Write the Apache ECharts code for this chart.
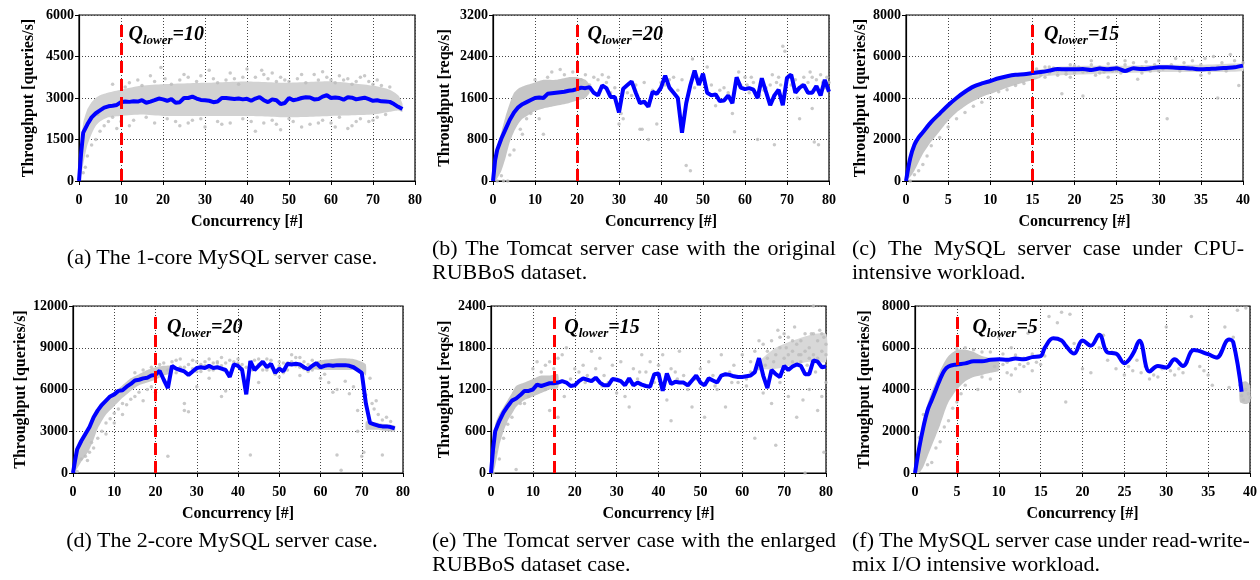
<!DOCTYPE html>
<html>
<head>
<meta charset="utf-8">
<script src="https://cdn.jsdelivr.net/npm/echarts@6/dist/echarts.min.js"></script>
<style>
  body { margin: 0; background: #fff; }
  #wrap { position: relative; width: 1260px; height: 580px; }
  #chart { width: 1260px; height: 580px; }
  .cap { position: absolute; font-family: "Liberation Serif", serif; font-size: 22px; line-height: 24px; color: #000; }
  .row { display: flex; justify-content: space-between; white-space: nowrap; }
  .one { text-align: center; white-space: nowrap; }
</style>
</head>
<body>
<div id="wrap">
  <div id="chart"></div>
</div>
<script>
// ---- data ----
const qLower = [10, 20, 15, 20, 15, 5];

const aLine = [[0,0],[0.5,1000],[1,1750],[2,2050],[3,2300],[4,2450],[5,2550],[6,2650],[7,2700],[8,2720],[9,2750],[10,2850],[11,2870],[12,2860],[13,2880],[14,2870],[15,2920],[16,2830],[17,2870],[18,2920],[19,2980],[20,2950],[21,2900],[22,2960],[23,2830],[24,2850],[25,3000],[26,3000],[27,3050],[28,2980],[29,2930],[30,2920],[31,2900],[32,2850],[33,2870],[34,3000],[35,3000],[36,2980],[37,2960],[38,2980],[39,2950],[40,2970],[41,2900],[42,2980],[43,3030],[44,2920],[45,2850],[46,2950],[47,2920],[48,2780],[49,2820],[50,3000],[51,2920],[52,2950],[53,3000],[54,3030],[55,3020],[56,2950],[57,2960],[58,3050],[59,3100],[60,3000],[61,3020],[62,3000],[63,2940],[64,3030],[65,3010],[66,2950],[67,2980],[68,3010],[69,2960],[70,2900],[71,2920],[72,2880],[73,2870],[74,2860],[75,2780],[76,2680],[77,2600]];
const aBand = [[0,0,0],[0.5,200,1400],[1,600,2100],[2,1300,2600],[3,1700,2850],[4,2000,3000],[5,2150,3100],[7,2300,3200],[10,2350,3300],[15,2400,3450],[20,2350,3500],[30,2350,3550],[40,2350,3600],[50,2300,3550],[60,2350,3600],[70,2400,3450],[74,2500,3300],[76,2550,3100],[77,2500,2800]];
const aPts = [[19.5,4100],[31,4000],[40,4050],[43.5,4000],[56,3850],[58,3950],[62,3800],[68,3800],[26,3750],[35,3650],[45,3700],[52,3700],[47,3600],[12,3550],[8,3500],[15,3450],[22,3500],[28,3600],[33,3550],[37,3700],[42,3750],[50,3600],[54,3550],[60,3650],[64,3700],[66,3600],[70,3500],[72,3450],[74,3400],[18,3600],[24,3650],[38,3500],[48,3750],[57,3650],[61,3550],[65,3500],[69,3600],[64,1900],[65,2000],[42,1800],[48,1850],[30,1950],[24,2000],[36,2100],[55,2050],[3,1300],[4,1500],[2,900],[9,1900],[10,2150],[18,2100],[13,2200],[21,2250],[27,2200],[33,2150],[39,2250],[44,2100],[46,2200],[51,2150],[53,1950],[58,2200],[60,2100],[62,2300],[67,2250],[69,2150],[71,2300],[73,2400],[16,2300],[6,2000],[7,2150],[5,1800],[1,300],[1.5,500],[20.5,3700],[25,3850],[29,3800],[32,3700],[36,3900],[39,3750],[44,3850],[46,3900],[49,3650],[53,3850],[59,3750],[63,3650],[67,3750],[71,3650],[11,3400],[14,3650],[17,3800],[23,2150],[26,2100],[29,2250],[34,2050],[41,2150],[47,2050],[50,2250],[57,2100],[61,1950],[66,2150],[70,2200],[12,2000],[4.5,2400],[8,2300]];

const bLine = [[0,0],[0.5,400],[1,600],[2,820],[3,1000],[4,1180],[5,1320],[6,1420],[7,1480],[8,1520],[9,1560],[10,1600],[11,1610],[12,1600],[13,1680],[14,1690],[15,1700],[16,1710],[17,1720],[18,1740],[19,1750],[20,1770],[21,1800],[22,1790],[23,1810],[24,1700],[25,1650],[26,1840],[27,1790],[28,1620],[29,1620],[30,1320],[31,1780],[32,1850],[33,1920],[34,1700],[35,1500],[36,1530],[37,1430],[38,1720],[39,1680],[40,1800],[41,2030],[42,1800],[43,1700],[44,1600],[45,930],[46,1500],[47,1850],[48,2130],[49,1850],[50,2070],[51,1700],[52,1650],[53,1670],[54,1540],[55,1550],[56,1650],[57,1500],[58,2000],[59,1800],[60,1770],[61,1790],[62,1760],[63,1600],[64,1980],[65,1720],[66,1460],[67,1650],[68,1760],[69,1460],[70,1990],[71,2050],[72,1700],[73,1800],[74,1850],[75,1700],[76,1700],[77,1830],[78,1650],[79,1950],[80,1720]];
const bBand = [[0,0,0],[0.5,0,400],[1,50,650],[2,200,950],[3,450,1250],[4,750,1500],[5,950,1700],[6,1100,1780],[7,1200,1820],[8,1250,1850],[10,1350,1900],[12,1400,1950],[15,1450,1950],[18,1500,2000],[20,1550,2000],[22,1600,1950],[23,1700,1850]];
const bPts = [[1,0],[2.5,0],[3.5,0],[2,100],[4,500],[5,600],[6.5,1000],[8,1200],[7,900],[9,1300],[12,900],[11,1200],[14,2100],[16,2150],[10,1950],[13,2000],[17,2050],[19,2100],[21,1950],[22,2050],[23,1850],[24,2000],[25,1950],[26,2050],[27,1900],[28,1700],[29,1800],[30,1100],[30.5,1300],[31,1200],[32,1700],[33,1650],[34,1850],[35,1000],[35.5,1000],[36,1900],[37,800],[38,1750],[39,1100],[40,1900],[41,1850],[42,1950],[43,2000],[44,1750],[46,300],[47,200],[47.5,2350],[49,1950],[51,2200],[52,1850],[53,1450],[55,1800],[56,1700],[57,1300],[57.5,950],[58,1900],[59,1850],[60,2000],[61,1700],[62,1900],[63,800],[63.5,1650],[64,1950],[65,1800],[66,1850],[67,700],[67.5,1900],[68,2000],[69,2600],[69.5,2500],[70,1950],[71,1850],[72,1950],[72.5,1600],[73,1200],[74,2000],[75,1900],[75.5,2100],[76,1400],[76.5,750],[77,1950],[77.5,700],[78,2050],[79,1800],[80,1900],[79.5,2000],[70.5,2050],[66.5,2050],[61.5,2000],[58.5,2100],[54,1750],[48,1800],[45,1950],[73.5,1850],[76,2000],[78.5,1900],[68.5,1850],[64.5,1750],[60.5,1850],[25.5,1750],[27.5,2000]];

const cLine = [[0,0],[0.5,1100],[1,1750],[1.5,2100],[2,2350],[3,2850],[4,3250],[5,3650],[6,4000],[7,4300],[8,4550],[9,4700],[10,4820],[11,4950],[12,5050],[13,5120],[14,5150],[15,5200],[16,5250],[17,5320],[18,5400],[19,5380],[20,5380],[21,5400],[22,5350],[23,5420],[24,5380],[25,5430],[26,5300],[27,5430],[28,5400],[29,5430],[30,5480],[31,5480],[32,5460],[33,5440],[34,5420],[35,5380],[36,5400],[37,5420],[38,5450],[39,5480],[40,5560]];
const cBand1 = [[0,0,0],[0.5,200,1000],[1,500,1700],[1.5,900,2050],[2,1300,2300],[3,1900,2800],[4,2400,3200],[5,2900,3600],[6,3300,3950],[7,3600,4250],[8,3850,4500],[9,4050,4650],[10,4200,4800],[12,4500,5000],[14,4750,5150],[15,4850,5250],[16,5000,5300]];
const cBand2 = [[15,5050,5300],[18,5100,5500],[22,5150,5550],[26,5200,5550],[30,5250,5600],[35,5250,5600],[40,5300,5650]];
const cPts = [[0.5,0],[1,300],[1.5,500],[2,800],[2.5,1200],[3,1700],[4,2100],[5,2600],[6,3000],[7,3300],[8,3600],[9,3800],[10,4000],[11,4300],[12,4400],[13,4600],[14,4700],[15.5,5400],[16,5100],[16.5,5500],[17,5200],[17.5,5450],[18,5100],[18.5,4200],[19,5300],[19.5,5600],[20,5200],[20.5,5500],[21,4100],[21.5,5300],[22,5600],[22.5,5100],[23,5500],[23.5,5250],[24,5650],[24.5,5300],[25,5500],[25.5,5200],[26,5600],[26.5,5350],[27,5700],[27.5,4900],[28,5500],[28.5,5750],[29,5300],[29.5,5600],[30,5800],[30.5,5400],[31,3000],[31.5,5600],[32,5900],[32.5,5300],[33,5700],[33.5,5500],[34,5800],[34.5,5350],[35,5600],[35.5,5900],[36,5200],[36.5,6000],[37,5500],[37.5,5700],[38,5300],[38.5,6100],[39,5800],[39.5,4600],[40,5700],[26,5800],[28,5200],[30,5300],[35,5100],[37,4000],[22,5800],[24,5000],[17,5500],[18,5300],[19,5150],[20,5550],[21,5250],[23,5200],[25,5300],[16.5,5000],[19.5,5000]];

const dLine = [[0,0],[0.5,900],[1,1700],[2,2300],[3,2800],[4,3300],[5,4000],[6,4500],[7,4900],[8,5200],[9,5500],[10,5650],[11,5900],[12,5950],[13,6200],[14,6400],[15,6650],[16,6700],[17,6800],[18,6850],[19,7000],[20,7050],[21,7350],[22,6700],[23,6100],[24,7700],[25,7500],[26,7400],[27,7300],[28,7050],[29,7300],[30,7550],[31,7600],[32,7550],[33,7700],[34,7550],[35,7600],[36,7500],[37,7400],[38,6900],[39,7800],[40,7700],[41,7400],[42,5650],[43,8050],[44,7400],[45,7700],[46,8000],[47,7600],[48,7850],[49,7200],[50,7500],[51,7300],[52,7850],[53,7800],[54,7850],[55,7800],[56,7600],[57,7450],[58,7700],[59,7900],[60,7600],[61,7700],[62,7750],[63,7700],[64,7750],[65,7750],[66,7750],[67,7700],[68,7600],[69,7400],[70,7200],[71,5000],[72,3600],[73,3500],[74,3400],[75,3350],[76,3350],[77,3300],[78,3200]];
const dBand1 = [[0,0,0],[1,300,1500],[2,800,2300],[3,1200,2900],[4,1700,3400],[5,2400,4000],[6,3200,4500],[8,4200,5200],[10,4800,5800],[12,5400,6300],[14,5900,6800],[16,6300,7100],[18,6500,7400],[20,6700,7600],[22,7000,7700],[24,7200,7700]];
const dBand2 = [[58,7500,7900],[60,7400,8100],[63,7400,8200],[65,7400,8250],[68,7400,8200],[70,7300,8000],[71,7000,7800]];
const dBand3 = [[71,3100,3700],[72,3100,3700],[74,3100,3600],[76,3000,3500],[78,3000,3400]];
const dPts = [[1,100],[2,1000],[3,1200],[4,1500],[5,1800],[4.5,2200],[3.5,900],[6,2500],[7,3000],[8,3600],[9,3900],[10,4300],[11,4600],[12,5000],[13,4900],[14,5300],[15,5500],[16,5800],[17,5200],[18,6000],[19,6200],[20,5800],[10,3600],[12,4200],[8,2800],[15,7200],[17,7400],[19,7600],[21,7800],[23,1200],[27,5000],[28,4400],[30,7300],[32,8000],[34,7900],[36,8300],[38,7200],[39,8000],[40,7900],[41,7500],[43,1300],[43.5,7400],[44,8100],[45,7800],[46,7400],[47,8200],[48,7600],[49,7100],[50,8000],[51,7200],[52,7900],[53,8500],[54,7700],[55,8300],[56,7500],[57,7300],[58,8100],[59,7700],[60,6800],[61,7100],[62,6500],[63,5800],[64,6000],[65,200],[64,1300],[66,6600],[67,5700],[68,6200],[69,4500],[70,1200],[70.5,1500],[71,5600],[72,6800],[72.5,5000],[73,4600],[74,4200],[75,3800],[76,4000],[73.5,5200],[77,3700],[75,1300],[69,3000],[24,8000],[26,8200],[29,8100],[25,7200],[27,7600],[31,7800],[33,7400],[35,7900],[22,7900],[23,7400],[25,8100],[26,7600],[28,7800],[29,7500],[30,8000],[31,7300],[32,7700],[33,8200],[34,7400],[35,8000],[36,7700],[37,7900],[38,8100],[40,8200],[41,7800],[42,7600],[44,7600],[45,8200],[46,7800],[47,7400],[48,8100],[50,7700],[51,7900],[52,7400],[53,8000],[54,8300],[55,7600],[56,8000],[57,7800],[58,7400],[30,6200],[33,6800],[37,5900],[45,6500],[50,6900],[55,7000],[27,4500],[36,5500]];

const eLine = [[0,0],[0.5,350],[1,600],[2,750],[3,870],[4,960],[5,1040],[6,1070],[7,1120],[8,1180],[9,1180],[10,1200],[11,1270],[12,1250],[13,1270],[14,1290],[15,1290],[16,1300],[17,1320],[18,1300],[19,1250],[20,1260],[21,1320],[22,1360],[23,1340],[24,1320],[25,1370],[26,1300],[27,1260],[28,1260],[29,1350],[30,1340],[31,1320],[32,1260],[33,1360],[34,1260],[35,1300],[36,1270],[37,1250],[38,1240],[39,1420],[40,1430],[41,1180],[42,1430],[43,1280],[44,1310],[45,1300],[46,1300],[47,1260],[48,1330],[49,1400],[50,1300],[51,1260],[52,1360],[53,1330],[54,1300],[55,1400],[56,1420],[57,1410],[58,1390],[59,1380],[60,1380],[61,1390],[62,1400],[63,1450],[64,1650],[65,1400],[66,1220],[67,1480],[68,1420],[69,1380],[70,1540],[71,1480],[72,1530],[73,1560],[74,1540],[75,1420],[76,1420],[77,1620],[78,1600],[79,1520],[80,1530]];
const eBand1 = [[0,0,0],[0.5,0,400],[1,100,700],[2,400,850],[3,600,950],[4,750,1050],[5,850,1150],[6,950,1250],[8,1050,1300],[10,1100,1350],[12,1150,1400],[14,1200,1400],[16,1220,1420]];
const eBand2 = [[64,1500,1600],[68,1500,1800],[72,1550,1900],[76,1600,1980],[80,1600,2000]];
const ePts = [[0.5,0],[1,300],[2,200],[3,500],[4,700],[5,800],[6,50],[7,1000],[8,1000],[9,1100],[10,1500],[11,1600],[12,1450],[13,1550],[14,1600],[15,1500],[16,1650],[17,1700],[18,1800],[19,1350],[14,900],[16,800],[17.5,1100],[13,1200],[20,1500],[21,1450],[22,1550],[23,1400],[24,1750],[25,1500],[26,1650],[27,1400],[28,1300],[29,1550],[30,1150],[31,1600],[32,1100],[33,950],[34,1500],[35,1350],[36,1700],[37,1450],[38,1600],[39,1300],[40,1550],[41,1700],[42,1050],[43,1500],[44,1450],[45,1750],[46,1400],[47,1200],[48,950],[49,1350],[50,1500],[51,800],[52,1600],[53,1400],[54,1200],[55,1700],[56,950],[57,1450],[58,1550],[59,1300],[60,1700],[61,1350],[62,1450],[63,500],[64,1900],[65,1150],[66,1750],[67,1000],[68,400],[69,1300],[70,2000],[71,1100],[72,1900],[73,800],[74,1700],[75,0],[76,1200],[77,2400],[78,900],[79,1100],[80,1300],[79.5,300],[76.5,2000],[72.5,2100],[68.5,2050],[74.5,1050],[77.5,1450],[65.5,1550],[61,1250],[43,750],[22.5,1300],[26.5,1250],[35.5,1450],[44.5,1350],[53.5,1250],[57.5,1300],[62,1600],[63,1750],[64,1500],[65,1850],[66,1650],[67,1900],[68,1700],[69,1800],[70,1650],[71,1950],[72,1750],[73,1850],[74,1600],[75,2000],[76,1800],[77,1700],[78,1900],[79,1750],[80,1850],[78.5,2050],[76,1650],[73.5,1700],[70.5,1800],[67.5,1600],[79.5,1950],[77,2000],[75.5,1550],[72,1600],[80,1700],[74,1900],[78,1650],[79,2000],[75,1750],[71,1700],[69,1950]];

const fLine = [[0,0],[0.5,1200],[1,2200],[1.5,3000],[2,3500],[2.5,4000],[3,4500],[3.5,4900],[4,5100],[5,5200],[6,5250],[7,5350],[8,5350],[9,5420],[10,5450],[11,5420],[12,5480],[13,5450],[14,5550],[15,5600],[15.5,6000],[16.5,6450],[17.5,6350],[18,6100],[19,5720],[20,6350],[21,6100],[22,6620],[23,5770],[24,5720],[25,5260],[26,5690],[26.8,6340],[28,4860],[29,5130],[30,5050],[31,5450],[32,5130],[33.3,5890],[35,5690],[36,5530],[37.5,6390],[38,6260],[39,3890]];
const fBand1 = [[0,0,0],[0.5,0,1500],[1,300,2600],[1.5,800,3300],[2,1300,3900],[2.5,1800,4400],[3,2300,4900],[3.5,2900,5300],[4,3400,5600],[5,4000,5900],[6,4400,5900],[7,4600,5800],[8,4700,5600],[9,4800,5500],[10,4900,5400]];
const fBand2 = [[38.8,3400,4300],[39.5,3300,4400],[40,3400,4200]];
const fPts = [[0.5,1700],[1,2800],[1.5,400],[2,500],[2.5,1200],[3,1500],[3.5,2200],[4,2500],[4.5,3100],[5,3400],[5.5,3800],[6,4200],[5,5950],[6,6000],[7,5900],[8,5800],[9,4500],[10,6500],[10.5,5200],[11,4800],[12,5000],[13,5500],[11.5,6000],[13.5,6700],[14,4900],[15,5200],[15.5,5600],[16,7500],[17,7200],[17.5,7700],[18,3400],[18.5,7600],[19,6200],[20,5000],[21,4800],[22,6000],[22.5,6600],[23,5400],[24,5000],[25,4700],[25.5,5100],[26,4900],[26.5,5400],[27,4800],[28,4500],[28.5,4700],[29,4600],[29.5,5000],[30,7000],[30.5,4900],[31,4700],[31.5,5000],[32,4800],[32.5,5300],[33,7500],[34,5100],[35,4700],[35.5,4200],[36,5500],[36.5,5800],[37,7000],[37.5,4100],[38,6500],[38.5,7800],[39,3700],[39.2,3500],[39.5,4000],[39.8,3800],[40,3600],[39.5,7900],[38.8,4200],[34.5,4900],[27.5,5100],[23.5,5800],[12.5,3900],[7.5,4000],[9.5,5100],[10.5,5700],[11,5300],[12,5650],[12.5,5200],[13,5100],[14,5700],[14.5,5300],[9,5800],[8,4600],[11.5,4700],[13.5,5250]];

const xTicksWide = [0, 80, 10];   // min, max, interval
const xTicksNarrow = [0, 40, 5];
const yTicksA = [0, 6000, 1500];
const yTicksB = [0, 3200, 800];
const yTicksC = [0, 8000, 2000];
const yTicksD = [0, 12000, 3000];
const yTicksE = [0, 2400, 600];
const yTicksF = [0, 8000, 2000];

const yNameQueries = 'Throughput [queries/s]';
const yNameReqs = 'Throughput [reqs/s]';
const xName = 'Concurrency [#]';

const captions = [
  ['(a) The 1-core MySQL server case.'],
  ['(b) The Tomcat server case with the original', 'RUBBoS dataset.'],
  ['(c) The MySQL server case under CPU-', 'intensive workload.'],
  ['(d) The 2-core MySQL server case.'],
  ['(e) The Tomcat server case with the enlarged', 'RUBBoS dataset case.'],
  ['(f) The MySQL server case under read-write-', 'mix I/O intensive workload.']
];

// ---- layout ----
const dense = '#c6c6c6', light = '#d8d8d8';
const panels = [
  { grid: { left: 79, top: 15, width: 336, height: 166 }, x: xTicksWide, y: yTicksA, yName: yNameQueries, yGap: 42, line: aLine, bands: [[aBand, '#d2d2d2']], pts: aPts, smooth: false, qdx: 8, qdy: 20 },
  { grid: { left: 493, top: 15, width: 336, height: 166 }, x: xTicksWide, y: yTicksB, yName: yNameReqs, yGap: 40, line: bLine, bands: [[bBand, dense]], pts: bPts, smooth: false, qdx: 11, qdy: 20 },
  { grid: { left: 906, top: 15, width: 337, height: 166 }, x: xTicksNarrow, y: yTicksC, yName: yNameQueries, yGap: 33, line: cLine, bands: [[cBand1, dense], [cBand2, light]], pts: cPts, smooth: 0.3, qdx: 12, qdy: 20 },
  { grid: { left: 73, top: 306, width: 330, height: 167 }, x: xTicksWide, y: yTicksD, yName: yNameQueries, yGap: 43, line: dLine, bands: [[dBand1, '#c9c9c9'], [dBand2, '#c9c9c9'], [dBand3, '#c9c9c9']], pts: dPts, smooth: false, qdx: 12, qdy: 22 },
  { grid: { left: 491, top: 306, width: 335, height: 167 }, x: xTicksWide, y: yTicksE, yName: yNameReqs, yGap: 38, line: eLine, bands: [[eBand1, dense], [eBand2, light]], pts: ePts, smooth: false, qdx: 11, qdy: 22 },
  { grid: { left: 915, top: 306, width: 335, height: 167 }, x: xTicksNarrow, y: yTicksF, yName: yNameQueries, yGap: 42, line: fLine, bands: [[fBand1, dense], [fBand2, dense]], pts: fPts, smooth: 0.4, qdx: 16, qdy: 22 }
];

const serif = 'Liberation Serif';
const grids = [], xAxes = [], yAxes = [], series = [];
const plain = v => String(v);

panels.forEach((p, i) => {
  grids.push(Object.assign({ show: true, borderColor: '#000', borderWidth: 1.2, backgroundColor: 'transparent', containLabel: false, outerBoundsMode: 'none' }, p.grid));
  xAxes.push({
    type: 'value', gridIndex: i, min: p.x[0], max: p.x[1], interval: p.x[2],
    name: xName, nameLocation: 'middle', nameGap: 33,
    nameTextStyle: { fontFamily: serif, fontWeight: 'bold', fontSize: 16, color: '#000' },
    axisLine: { show: true, onZero: false, lineStyle: { color: '#000', width: 1.2 } },
    axisTick: { show: true, inside: false, length: 4, lineStyle: { color: '#000' } },
    axisLabel: { show: true, margin: 12, formatter: plain, fontFamily: serif, fontWeight: 'bold', fontSize: 14, color: '#000', showMinLabel: true, showMaxLabel: true, hideOverlap: false },
    splitLine: { show: true, lineStyle: { type: [1, 2], color: '#444', width: 1 } }
  });
  yAxes.push({
    type: 'value', gridIndex: i, min: p.y[0], max: p.y[1], interval: p.y[2],
    name: p.yName, nameLocation: 'middle', nameRotate: 90, nameGap: p.yGap,
    nameTextStyle: { fontFamily: serif, fontWeight: 'bold', fontSize: 16, color: '#000' },
    axisLine: { show: true, onZero: false, lineStyle: { color: '#000', width: 1.2 } },
    axisTick: { show: true, inside: false, length: 4, lineStyle: { color: '#000' } },
    axisLabel: { show: true, margin: 5, formatter: plain, fontFamily: serif, fontWeight: 'bold', fontSize: 14, color: '#000', showMinLabel: true, showMaxLabel: true, hideOverlap: false },
    splitLine: { show: true, lineStyle: { type: [1, 2], color: '#444', width: 1 } }
  });

  p.bands.forEach(([band, fill]) => {
    series.push({
      type: 'custom', xAxisIndex: i, yAxisIndex: i, silent: true, z: 1,
      data: [[band[0][0], band[0][1]]],
      renderItem: (params, api) => {
        const top = band.map(r => api.coord([r[0], r[2]]));
        const bot = band.slice().reverse().map(r => api.coord([r[0], r[1]]));
        return { type: 'polygon', shape: { points: top.concat(bot), smooth: 0.2 }, style: { fill: fill } };
      }
    });
  });

  series.push({
    type: 'scatter', xAxisIndex: i, yAxisIndex: i, silent: true, z: 2,
    symbol: 'circle', symbolSize: 3.5, itemStyle: { color: '#bcbcbc' },
    data: p.pts
  });

  const q = qLower[i];
  series.push({
    type: 'line', xAxisIndex: i, yAxisIndex: i, silent: true, z: 3,
    showSymbol: false, symbol: 'none', smooth: p.smooth,
    lineStyle: { color: '#0000ff', width: 4 },
    data: p.line,
    markLine: {
      silent: true, symbol: ['none', 'none'], label: { show: false },
      lineStyle: { color: '#ff0000', width: 3, type: [12, 6] },
      data: [[{ coord: [q, p.y[0]] }, { coord: [q, p.y[1] * 0.958] }]]
    },
    markPoint: {
      silent: true, symbol: 'circle', symbolSize: 1, itemStyle: { color: 'transparent' },
      label: {
        show: true, position: [p.qdx, p.qdy], align: 'left', verticalAlign: 'middle',
        formatter: '{q|Q}{s|lower}{e|=' + q + '}',
        rich: {
          q: { fontFamily: serif, fontStyle: 'italic', fontWeight: 'bold', fontSize: 20, lineHeight: 26, verticalAlign: 'middle', color: '#000' },
          s: { fontFamily: serif, fontStyle: 'italic', fontWeight: 'bold', fontSize: 13, lineHeight: 26, verticalAlign: 'bottom', color: '#000' },
          e: { fontFamily: serif, fontStyle: 'italic', fontWeight: 'bold', fontSize: 20, lineHeight: 26, verticalAlign: 'middle', color: '#000' }
        }
      },
      data: [{ coord: [q, p.y[1]] }]
    }
  });
});

const chart = echarts.init(document.getElementById('chart'), null, { renderer: 'canvas' });
chart.setOption({
  animation: false,
  backgroundColor: '#fff',
  grid: grids,
  xAxis: xAxes,
  yAxis: yAxes,
  series: series
});

// ---- captions (HTML text, first line justified) ----
const capBoxes = [
  { left: 20, top: 245, width: 404 },
  { left: 432, top: 236, width: 404 },
  { left: 852, top: 236, width: 392 },
  { left: 20, top: 528, width: 404 },
  { left: 432, top: 528, width: 404 },
  { left: 852, top: 528, width: 398 }
];
const wrap = document.getElementById('wrap');
captions.forEach((lines, i) => {
  const b = capBoxes[i];
  const div = document.createElement('div');
  div.className = 'cap';
  div.style.left = b.left + 'px';
  div.style.top = b.top + 'px';
  div.style.width = b.width + 'px';
  if (lines.length === 1) {
    div.innerHTML = '<div class="one">' + lines[0] + '</div>';
  } else {
    const words = lines[0].split(' ').map(w => '<span>' + w + '</span>').join('');
    div.innerHTML = '<div class="row">' + words + '</div><div>' + lines[1] + '</div>';
  }
  wrap.appendChild(div);
});
</script>
</body>
</html>
